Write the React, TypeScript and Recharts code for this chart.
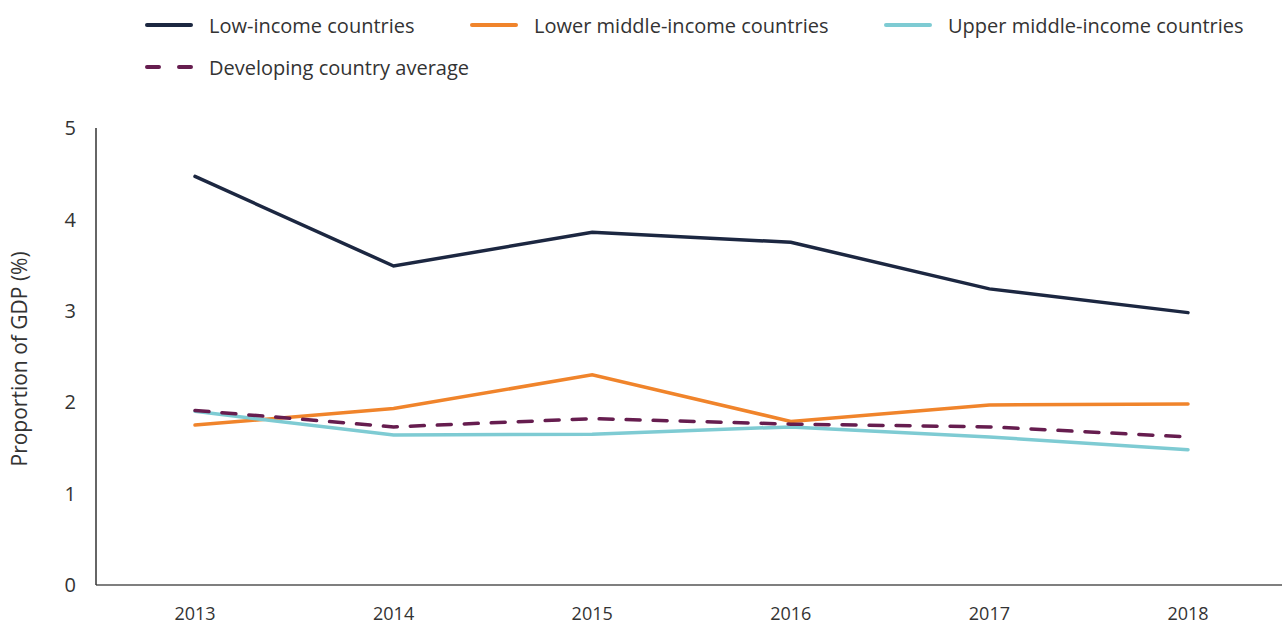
import React from "react";
import { LineChart, Line, XAxis, YAxis } from "recharts";

const years = ["2013", "2014", "2015", "2016", "2017", "2018"];
const lowIncome = [4.47, 3.49, 3.86, 3.75, 3.24, 2.98];
const lowerMiddle = [1.75, 1.93, 2.3, 1.79, 1.97, 1.98];
const upperMiddle = [1.9, 1.64, 1.65, 1.73, 1.62, 1.48];
const developingAvg = [1.91, 1.73, 1.82, 1.76, 1.73, 1.62];
const yTicks = [0, 1, 2, 3, 4, 5];

const data = years.map((year, i) => ({
  year,
  low: lowIncome[i],
  lowerMid: lowerMiddle[i],
  upperMid: upperMiddle[i],
  avg: developingAvg[i],
}));

const series = [
  { key: "low", name: "Low-income countries", color: "#1c2741", dash: undefined, width: 325 },
  { key: "lowerMid", name: "Lower middle-income countries", color: "#f0842b", dash: undefined, width: 414 },
  { key: "upperMid", name: "Upper middle-income countries", color: "#7ecbd3", dash: undefined, width: 390 },
  { key: "avg", name: "Developing country average", color: "#661d4f", dash: "14 13", width: 400 },
];

const font = "'Open Sans', sans-serif";
const textColor = "#333333";

// legend drawn as plain html above the plot
const ChartLegend = () => (
  <div
    style={{
      position: "absolute",
      top: 13,
      left: 145,
      display: "flex",
      flexWrap: "wrap",
      width: 1137,
      rowGap: 18,
      fontFamily: font,
      fontSize: 20,
      color: textColor,
    }}
  >
    {series.map((s) => (
      <div key={s.key} style={{ display: "flex", alignItems: "center", width: s.width, height: 24 }}>
        <svg width={48} height={6} style={{ marginRight: 16, flexShrink: 0 }}>
          <line
            x1={2}
            y1={3}
            x2={46}
            y2={3}
            stroke={s.color}
            strokeWidth={4}
            strokeLinecap="round"
            strokeDasharray={s.dash ? "12 20" : undefined}
          />
        </svg>
        <span style={{ whiteSpace: "nowrap" }}>{s.name}</span>
      </div>
    ))}
  </div>
);

export default function App() {
  return (
    <div style={{ position: "absolute", left: 0, top: 0, width: 1282, height: 628 }}>
      <LineChart
        width={1282}
        height={628}
        data={data}
        margin={{ top: 128, right: 0, bottom: 0, left: 0 }}
      >
        <XAxis
          dataKey="year"
          height={43}
          padding={{ left: 99, right: 94 }}
          tickLine={false}
          tickSize={0}
          tickMargin={22}
          axisLine={{ stroke: "#555555", strokeWidth: 1.5 }}
          tick={{ fill: textColor, fontSize: 18, fontFamily: font }}
        />
        <YAxis
          domain={[0, 5]}
          ticks={yTicks}
          width={96}
          tickLine={false}
          tickSize={0}
          tickMargin={20}
          axisLine={{ stroke: "#333333", strokeWidth: 1.5 }}
          tick={{ fill: textColor, fontSize: 20, fontFamily: font }}
          label={{
            value: "Proportion of GDP (%)",
            angle: -90,
            position: "insideLeft",
            dx: 15,
            dy: 110,
            style: { fill: textColor, fontSize: 21, fontFamily: font },
          }}
        />
        {series.map((s) => (
          <Line
            key={s.key}
            dataKey={s.key}
            name={s.name}
            stroke={s.color}
            strokeWidth={3.5}
            strokeDasharray={s.dash}
            strokeLinecap="round"
            dot={false}
            activeDot={false}
            isAnimationActive={false}
            type="linear"
          />
        ))}
      </LineChart>
      <ChartLegend />
    </div>
  );
}
